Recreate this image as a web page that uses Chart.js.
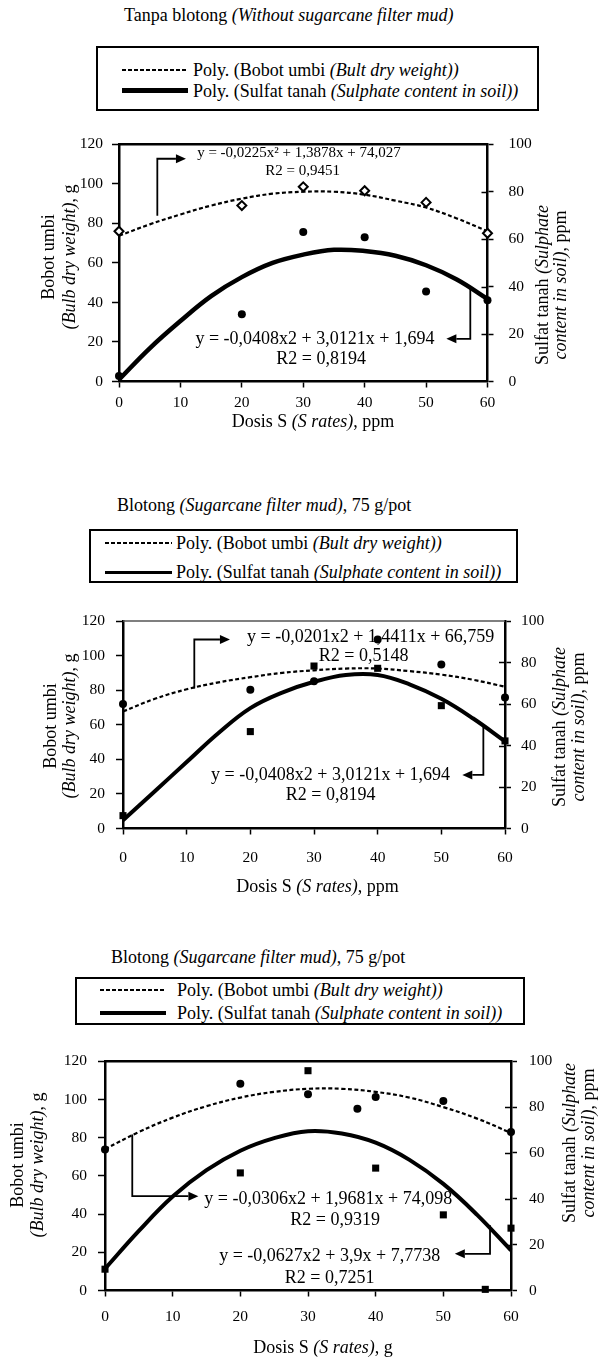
<!DOCTYPE html>
<html>
<head>
<meta charset="utf-8">
<script src="https://cdn.jsdelivr.net/npm/chart.js@4.4.1/dist/chart.umd.min.js"></script>
<style>
    body { margin: 0; width: 600px; height: 1360px; position: relative; overflow: hidden; background: #fff; color: #000; font-family: "Liberation Serif", "Times New Roman", serif; }
    .txt { position: absolute; font-size: 18px; line-height: 18px; white-space: nowrap; }
    .box { position: absolute; border: 2px solid #000; box-sizing: border-box; }
    .dash { position: absolute; height: 2px; background: repeating-linear-gradient(to right, #000 0 4px, transparent 4px 6px); }
    .solid { position: absolute; background: #000; }
    canvas { position: absolute; left: 0; }
</style>
</head>
<body>
<!-- chart 1 -->
<div class="txt" style="left:124px; top:6px;">Tanpa blotong <i>(Without sugarcane filter mud)</i></div>
<div class="box" style="left:96px; top:46px; width:443px; height:65px;"></div>
<div class="dash" style="left:122px; top:69px; width:66px;"></div>
<div class="txt" style="left:193px; top:61px;">Poly. (Bobot umbi <i>(Bult dry weight))</i></div>
<div class="solid" style="left:122px; top:88px; width:66px; height:5px;"></div>
<div class="txt" style="left:193px; top:82px;">Poly. (Sulfat tanah <i>(Sulphate content in soil))</i></div>
<canvas id="chart1" width="600" height="320" style="top:120px;"></canvas>

<!-- chart 2 -->
<div class="txt" style="left:117px; top:496px;">Blotong <i>(Sugarcane filter mud)</i>, 75 g/pot</div>
<div class="box" style="left:89px; top:529px; width:429px; height:54px;"></div>
<div class="dash" style="left:105px; top:542px; width:67px;"></div>
<div class="txt" style="left:176px; top:534px;">Poly. (Bobot umbi <i>(Bult dry weight))</i></div>
<div class="solid" style="left:105px; top:571px; width:67px; height:2.5px;"></div>
<div class="txt" style="left:176px; top:563px;">Poly. (Sulfat tanah <i>(Sulphate content in soil))</i></div>
<canvas id="chart2" width="600" height="310" style="top:600px;"></canvas>

<!-- chart 3 -->
<div class="txt" style="left:111px; top:948px;">Blotong <i>(Sugarcane filter mud)</i>, 75 g/pot</div>
<div class="box" style="left:75px; top:977px; width:450px; height:48px;"></div>
<div class="dash" style="left:100px; top:989px; width:66px;"></div>
<div class="txt" style="left:177px; top:981px;">Poly. (Bobot umbi <i>(Bult dry weight))</i></div>
<div class="solid" style="left:100px; top:1011px; width:66px; height:4px;"></div>
<div class="txt" style="left:177px; top:1004px;">Poly. (Sulfat tanah <i>(Sulphate content in soil))</i></div>
<canvas id="chart3" width="600" height="320" style="top:1040px;"></canvas>

<script>
const doses = [0, 20, 30, 40, 50, 60];
const trendX = [0, 5, 10, 15, 20, 25, 30, 35, 40, 45, 50, 55, 60];

// Tanpa blotong
const bobot1 = [76, 89, 98.5, 96.5, 90.6, 75];
const sulfat1 = [2.3, 28.4, 63, 60.8, 37.9, 34.3];
const trendBobot1 = [73.7, 79.5, 84.5, 89, 92.5, 95, 96, 96, 94.5, 91.5, 88, 82.5, 76];
const trendSulfat1 = [0.8, 14, 25.5, 36, 44, 50, 53.5, 55.5, 55, 53, 49, 43, 34.8];

// Blotong 75 g/pot, dose in ppm
const bobot2 = [72, 80.3, 85.1, 109.3, 94.8, 75.8];
const sulfat2 = [6.2, 46.7, 78.3, 77.2, 59.2, 42.2];
const trendBobot2 = [67.7, 75, 80.5, 84.5, 87.5, 90, 91.5, 92.5, 92.5, 91, 89, 86, 82];
const trendSulfat2 = [4, 18, 32, 46, 58, 65.5, 70.7, 74, 74, 69.5, 62.5, 53, 42];

// Blotong 75 g/pot, dose in g
const dosesBobot3 = [0, 20, 30, 37.3, 40, 50, 60];
const bobot3 = [73.8, 108.3, 102.7, 95.2, 101.3, 99.2, 83];
const dosesSulfat3 = [0, 20, 30, 40, 50, 56.2, 60];
const sulfat3 = [9.3, 51.3, 95.9, 53.4, 33, 0.5, 27.2];
const trendBobot3 = [74, 83, 90.5, 96.5, 101, 104, 105.6, 105.6, 104, 101, 96, 90, 82.5];
const trendSulfat3 = [9.5, 26, 41, 52.5, 61, 66.5, 69.5, 68.5, 64.5, 57, 46.5, 33, 17.5];

// axis ranges
const xRange = [0, 60, 10];
const leftRange = [0, 120, 20];
const rightRange = [0, 100, 20];

const FONT = 'Liberation Serif';

function pts(xs, ys) {
    return xs.map((x, i) => ({ x: x, y: ys[i] }));
}

// text made of normal / italic pieces: [[text, italic], ...]
function drawRuns(ctx, runs, cx, cy, size) {
    let w = 0;
    runs.forEach(r => {
        ctx.font = (r[1] ? 'italic ' : '') + size + 'px "' + FONT + '"';
        w += ctx.measureText(r[0]).width;
    });
    let x = cx - w / 2;
    ctx.textAlign = 'left';
    ctx.textBaseline = 'middle';
    runs.forEach(r => {
        ctx.font = (r[1] ? 'italic ' : '') + size + 'px "' + FONT + '"';
        ctx.fillText(r[0], x, cy);
        x += ctx.measureText(r[0]).width;
    });
}

const decor = {
    id: 'decor',
    afterDraw(chart, args, o) {
        const { ctx, chartArea: a } = chart;
        const sx = chart.scales.x, sy = chart.scales.y, sy2 = chart.scales.y2;
        const top = o.canvasTop;
        ctx.save();
        ctx.fillStyle = '#000';

        // top frame line
        ctx.strokeStyle = o.frameColor;
        ctx.lineWidth = o.frameWidth;
        ctx.beginPath();
        ctx.moveTo(a.left, a.top);
        ctx.lineTo(a.right, a.top);
        ctx.stroke();

        // right axis ticks also reach inside
        ctx.strokeStyle = '#000';
        ctx.lineWidth = 1.5;
        sy2.ticks.forEach(t => {
            if (t.value <= rightRange[0] || t.value >= rightRange[1]) return;
            const py = Math.round(sy2.getPixelForValue(t.value)) + 0.5;
            ctx.beginPath();
            ctx.moveTo(a.right - 6, py);
            ctx.lineTo(a.right, py);
            ctx.stroke();
        });

        // arrows pointing to the equations
        o.arrows.forEach(path => {
            const p = path.map(q => [sx.getPixelForValue(q[0]), sy.getPixelForValue(q[1])]);
            const n = p.length;
            const dx = p[n - 1][0] - p[n - 2][0], dy = p[n - 1][1] - p[n - 2][1];
            const len = Math.hypot(dx, dy), ux = dx / len, uy = dy / len;
            const hl = 10, hw = 4.5;
            ctx.lineWidth = 1.8;
            ctx.beginPath();
            ctx.moveTo(p[0][0], p[0][1]);
            for (let i = 1; i < n - 1; i++) ctx.lineTo(p[i][0], p[i][1]);
            ctx.lineTo(p[n - 1][0] - ux * hl, p[n - 1][1] - uy * hl);
            ctx.stroke();
            ctx.beginPath();
            ctx.moveTo(p[n - 1][0], p[n - 1][1]);
            ctx.lineTo(p[n - 1][0] - ux * hl - uy * hw, p[n - 1][1] - uy * hl + ux * hw);
            ctx.lineTo(p[n - 1][0] - ux * hl + uy * hw, p[n - 1][1] - uy * hl - ux * hw);
            ctx.closePath();
            ctx.fill();
        });

        // equations
        o.labels.forEach(l => {
            drawRuns(ctx, [[l.text, false]], sx.getPixelForValue(l.x), sy.getPixelForValue(l.y), l.size);
        });

        // axis titles
        const rot = (runs, x, y) => {
            ctx.save();
            ctx.translate(x, y - top);
            ctx.rotate(-Math.PI / 2);
            drawRuns(ctx, runs, 0, 0, 18);
            ctx.restore();
        };
        rot([['Bobot umbi', false]], o.leftTitle[0], o.leftTitle[2]);
        rot([['(Bulb dry weight)', true], [', g', false]], o.leftTitle[1], o.leftTitle[2]);
        rot([['Sulfat tanah ', false], ['(Sulphate', true]], o.rightTitle[0], o.rightTitle[2]);
        rot([['content in soil)', true], [', ppm', false]], o.rightTitle[1], o.rightTitle[2]);
        drawRuns(ctx, [['Dosis S ', false], ['(S rates)', true], [o.xUnit, false]], o.xTitle[0], o.xTitle[1] - top, 18);

        ctx.restore();
    }
};

function makeChart(id, d) {
    const tickFont = { family: FONT, size: 15.5 };
    new Chart(document.getElementById(id), {
        type: 'scatter',
        data: {
            datasets: [
                {
                    data: pts(d.bobotX, d.bobot), yAxisID: 'y',
                    pointStyle: d.bobotStyle, pointRadius: d.bobotRadius,
                    backgroundColor: d.bobotFill, borderColor: '#000', borderWidth: d.bobotBorder,
                    clip: false
                },
                {
                    data: pts(d.sulfatX, d.sulfat), yAxisID: 'y2',
                    pointStyle: d.sulfatStyle, pointRadius: d.sulfatRadius,
                    backgroundColor: '#000', borderColor: '#000', borderWidth: 0,
                    clip: false
                },
                {
                    data: pts(trendX, d.trendBobot), yAxisID: 'y',
                    showLine: true, pointRadius: 0, borderColor: '#000', borderWidth: 2.2,
                    borderDash: [4, 2.5], tension: 0.4, clip: false
                },
                {
                    data: pts(trendX, d.trendSulfat), yAxisID: 'y2',
                    showLine: true, pointRadius: 0, borderColor: '#000', borderWidth: d.solidWidth,
                    tension: 0.4, clip: false
                }
            ]
        },
        options: {
            responsive: false,
            animation: false,
            devicePixelRatio: 1,
            layout: { padding: d.padding },
            events: [],
            plugins: {
                legend: { display: false },
                tooltip: { enabled: false },
                decor: d.decor
            },
            scales: {
                x: {
                    type: 'linear', min: xRange[0], max: xRange[1],
                    ticks: { stepSize: xRange[2], color: '#000', font: tickFont, padding: d.xPad, maxRotation: 0 },
                    grid: { drawOnChartArea: false, color: '#000', tickLength: 6, tickWidth: 1.5 },
                    border: { color: '#000', width: 2.5 },
                    afterFit: s => { s.height = 40; }
                },
                y: {
                    position: 'left', min: leftRange[0], max: leftRange[1],
                    ticks: { stepSize: leftRange[2], color: '#000', font: tickFont, padding: d.yPad },
                    grid: { drawOnChartArea: false, color: '#000', tickLength: 7, tickWidth: 1.5 },
                    border: { color: '#000', width: 2.5 },
                    afterFit: s => { s.width = 60; }
                },
                y2: {
                    position: 'right', min: rightRange[0], max: rightRange[1],
                    ticks: { stepSize: rightRange[2], color: '#000', font: tickFont, padding: d.y2Pad },
                    grid: { drawOnChartArea: false, color: '#000', tickLength: 6, tickWidth: 1.5 },
                    border: { color: '#000', width: 2.5 },
                    afterFit: s => { s.width = 60; }
                }
            }
        },
        plugins: [decor]
    });
}

makeChart('chart1', {
    bobotX: doses, bobot: bobot1, sulfatX: doses, sulfat: sulfat1,
    trendBobot: trendBobot1, trendSulfat: trendSulfat1,
    bobotStyle: 'rectRot', bobotRadius: 4.5, bobotFill: '#fff', bobotBorder: 2,
    sulfatStyle: 'circle', sulfatRadius: 4,
    solidWidth: 4.5,
    padding: { left: 59, right: 52.5, top: 13, bottom: 18.5 },
    xPad: 6, yPad: 9, y2Pad: 15,
    decor: {
        canvasTop: 120, frameColor: '#000', frameWidth: 2.5,
        arrows: [
            [[6.24, 83.8], [6.24, 112.7], [10.9, 112.7]],
            [[57.2, 47.4], [57.2, 21.6], [53.3, 21.6]]
        ],
        labels: [
            { text: 'y = -0,0225x² + 1,3878x + 74,027', x: 29.3, y: 115.8, size: 15 },
            { text: 'R2 = 0,9451', x: 29.9, y: 106.5, size: 15 },
            { text: 'y = -0,0408x2 + 3,0121x + 1,694', x: 31.9, y: 21.6, size: 18 },
            { text: 'R2 = 0,8194', x: 32.9, y: 11.2, size: 18 }
        ],
        leftTitle: [49.7, 70.7, 257], rightTitle: [543, 561.4, 285],
        xTitle: [313, 422], xUnit: ', ppm'
    }
});

makeChart('chart2', {
    bobotX: doses, bobot: bobot2, sulfatX: doses, sulfat: sulfat2,
    trendBobot: trendBobot2, trendSulfat: trendSulfat2,
    bobotStyle: 'circle', bobotRadius: 4, bobotFill: '#000', bobotBorder: 0,
    sulfatStyle: 'rect', sulfatRadius: 5,
    solidWidth: 4,
    padding: { left: 63, right: 35, top: 21, bottom: 41.5 },
    xPad: 14, yPad: 11, y2Pad: 10,
    decor: {
        canvasTop: 600, frameColor: '#555', frameWidth: 1.5,
        arrows: [
            [[11.2, 80.9], [11.2, 109.3], [16.8, 109.3]],
            [[56.6, 59.4], [56.6, 31], [53.3, 31]]
        ],
        labels: [
            { text: 'y = -0,0201x2 + 1,4411x + 66,759', x: 38.9, y: 110.5, size: 18 },
            { text: 'R2 = 0,5148', x: 37.8, y: 99.6, size: 18 },
            { text: 'y = -0,0408x2 + 3,0121x + 1,694', x: 32.6, y: 31, size: 18 },
            { text: 'R2 = 0,8194', x: 32.6, y: 19.4, size: 18 }
        ],
        leftTitle: [51.6, 70.7, 726], rightTitle: [560, 579, 727],
        xTitle: [317.5, 887], xUnit: ', ppm'
    }
});

makeChart('chart3', {
    bobotX: dosesBobot3, bobot: bobot3, sulfatX: dosesSulfat3, sulfat: sulfat3,
    trendBobot: trendBobot3, trendSulfat: trendSulfat3,
    bobotStyle: 'circle', bobotRadius: 4, bobotFill: '#000', bobotBorder: 0,
    sulfatStyle: 'rect', sulfatRadius: 5,
    solidWidth: 4,
    padding: { left: 45, right: 29, top: 11, bottom: 29.5 },
    xPad: 11, yPad: 11, y2Pad: 12,
    decor: {
        canvasTop: 1040, frameColor: '#000', frameWidth: 2.5,
        arrows: [
            [[4.03, 81.7], [4.03, 49.4], [13.8, 49.4]],
            [[56.9, 34.2], [56.9, 19.2], [51.7, 19.2]]
        ],
        labels: [
            { text: 'y = -0,0306x2 + 1,9681x + 74,098', x: 33, y: 47.8, size: 18 },
            { text: 'R2 = 0,9319', x: 34, y: 36.7, size: 18 },
            { text: 'y = -0,0627x2 + 3,9x + 7,7738', x: 33.2, y: 17.8, size: 18 },
            { text: 'R2 = 0,7251', x: 33.2, y: 6.4, size: 18 }
        ],
        leftTitle: [18.4, 38.2, 1165], rightTitle: [570, 589, 1143],
        xTitle: [323, 1348], xUnit: ', g'
    }
});
</script>
</body>
</html>
